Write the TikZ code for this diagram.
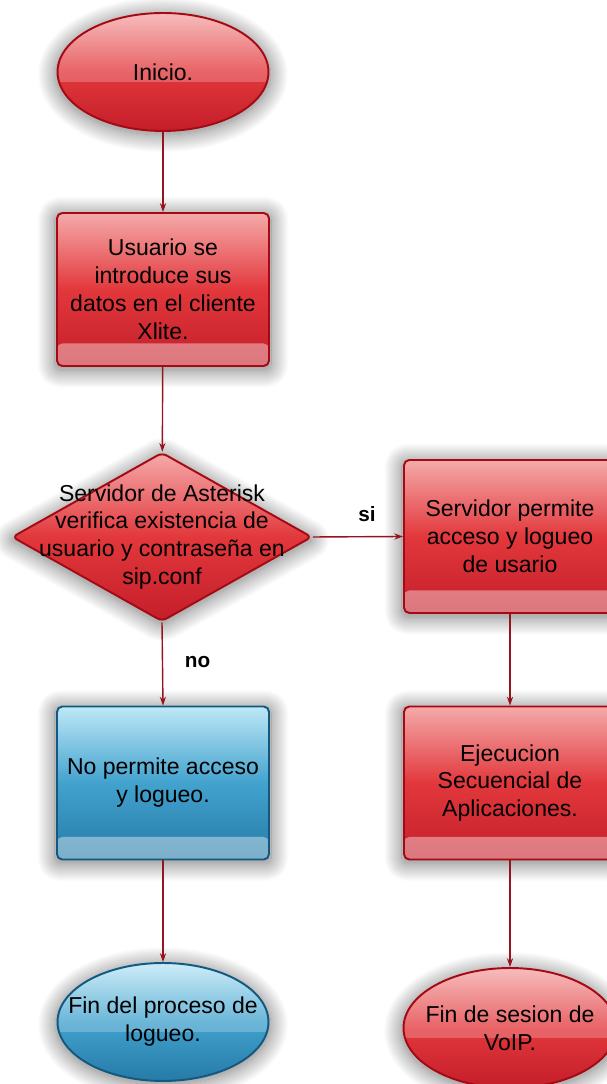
\documentclass[tikz,border=0pt]{standalone}
\usepackage{fontspec}
\setmainfont{Liberation Sans}
\usepackage{tikz}
\usetikzlibrary{shapes,arrows.meta,positioning,shadows.blur,shapes.geometric}

\definecolor{redline}{RGB}{165,10,20}
\definecolor{redtop}{RGB}{245,170,170}
\definecolor{redmid}{RGB}{226,56,60}
\definecolor{redbot}{RGB}{196,30,42}
\definecolor{bluetop}{RGB}{190,232,246}
\definecolor{bluemid}{RGB}{66,162,206}
\definecolor{bluebot}{RGB}{38,122,166}
\definecolor{blueline}{RGB}{18,88,128}
\definecolor{arrred}{RGB}{150,20,30}

\begin{document}
\begin{tikzpicture}[
  x=0.02cm, y=0.02cm,
  txt/.style={align=center, text=black, font=\fontsize{13.1}{15.9}\selectfont},
  glow/.style={blur shadow={shadow xshift=0pt, shadow yshift=-1.5pt,
    shadow blur radius=10pt, shadow blur steps=24, shadow opacity=55,
    shadow scale=1.02}},
  redbox/.style={rectangle, draw=redline, line width=1.1pt, rounded corners=3pt,
    top color=redtop, bottom color=redbot, middle color=redmid, glow,
    minimum width=4.24cm, minimum height=3.06cm, txt,
    path picture={\fill[white, opacity=0.4]
      ([yshift=0.45cm]path picture bounding box.south west) rectangle
      (path picture bounding box.south east);}},
  bluebox/.style={redbox, draw=blueline,
    top color=bluetop, bottom color=bluebot, middle color=bluemid},
  redend/.style={ellipse, draw=redline, line width=1.1pt, inner sep=0pt,
    top color=redtop, bottom color=redbot, middle color=redmid, glow,
    minimum width=4.22cm, minimum height=2.36cm,
    path picture={\fill[white, opacity=0.22]
      (path picture bounding box.north west) rectangle
      ([yshift=-0.2cm]path picture bounding box.east);}},
  blueend/.style={redend, draw=blueline,
    top color=bluetop, bottom color=bluebot, middle color=bluemid},
  dec/.style={diamond, draw=redline, line width=1.1pt, rounded corners=3pt,
    top color=redtop, bottom color=redbot, middle color=redmid, glow,
    minimum width=6.0cm, minimum height=3.38cm, inner sep=0pt},
  arr/.style={-{Stealth[length=5pt, width=3.5pt]}, draw=arrred, line width=0.8pt},
  lab/.style={font=\fontsize{11.8}{13}\selectfont\bfseries}
]
\useasboundingbox (0,0) rectangle (607,1084);
%% ─── Left column ────────────────────────────────────────────────────────────
\node[redend, label={[txt]center:Inicio.}] (ini) at (163,1012) {};
\node[redbox] (usr) at (163,794.5) {Usuario se\\introduce sus\\datos en el cliente\\Xlite.};
\node[dec, label={[txt]center:Servidor de Asterisk\\verifica existencia de\\usuario y contraseña en\\sip.conf}] (chk) at (162,547) {};
\node[bluebox] (nop) at (163,301) {No permite acceso\\y logueo.};
\node[blueend, label={[txt]center:Fin del proceso de\\logueo.}] (fin1) at (163,62) {};
%% ─── Right column ───────────────────────────────────────────────────────────
\node[redbox] (srv) at (510,547.5) {Servidor permite\\acceso y logueo\\de usario};
\node[redbox] (eje) at (510,301) {Ejecucion\\Secuencial de\\Aplicaciones.};
\node[redend, minimum width=4.26cm, minimum height=2.4cm,
  label={[txt]center:Fin de sesion de\\VoIP.}] (fin2) at (510,56) {};
%% ─── Arrows ─────────────────────────────────────────────────────────────────
\draw[arr] (ini)  -- (usr);
\draw[arr] (usr)  -- (chk);
\draw[arr] (chk.east)  -- node[lab, above=5pt, pos=0.6]{si} (srv.west);
\draw[arr] (chk.south) -- node[lab, right=9pt, pos=0.48]{no} (nop.north);
\draw[arr] (srv)  -- (eje);
\draw[arr] (nop)  -- (fin1);
\draw[arr] (eje)  -- (fin2);
\end{tikzpicture}
\end{document}
